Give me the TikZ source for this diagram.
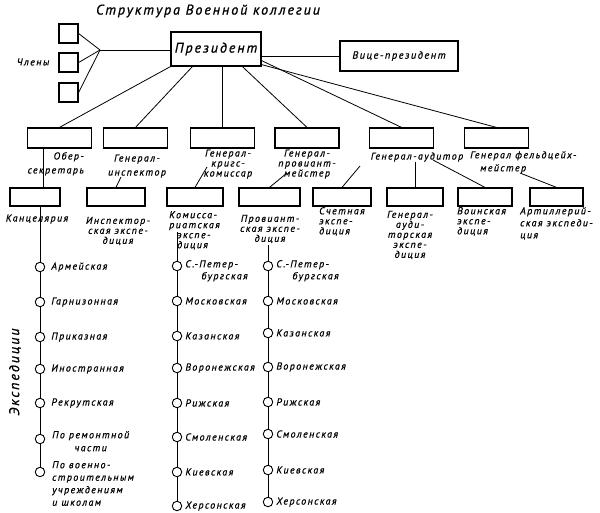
\documentclass[tikz,border=0pt]{standalone}
\usepackage{fontspec}
\setmainfont{PT Sans}
\newfontfamily\labelfont{PT Sans}[LetterSpace=14, FakeBold=0.6]
\newfontfamily\headfont{PT Sans}[LetterSpace=14, FakeBold=1]
\usetikzlibrary{positioning, calc}

\begin{document}
\begin{tikzpicture}[
  x=1pt, y=-1pt,
  font=\labelfont\itshape\fontsize{10}{10}\selectfont,
  box/.style     = {draw, line width=1.2pt, minimum width=#1,
                    minimum height=19pt, inner sep=0pt},
  box/.default   = 56,
  link/.style    = {line width=0.8pt},
  station/.style = {circle, draw, line width=0.9pt, fill=white,
                    minimum size=9.5pt, inner sep=0pt},
  txt/.style     = {inner sep=0pt, align=left},
  head/.style    = {font=\headfont\itshape\fontsize{14}{16}\selectfont}
]
\fill[white] (0,0) rectangle (600,512);
\useasboundingbox (0,0) rectangle (600,512);

% ── Top ───────────────────────────────────────────────────────────────────────
\node[head] (title) at (208,11) {Структура Военной коллегии};
\node[box=90, minimum height=34] (pres) at (216,49)
  {\headfont\itshape\fontsize{14}{16}\selectfont Президент};
\node[box=118, minimum height=30] (vice) at (399,56)
  {\fontsize{10.5}{12}\selectfont Вице-президент};

\foreach \i/\y in {1/33.5, 2/62.5, 3/92.5}
  \node[box=19, minimum height=19] (m\i) at (68.5,\y) {};
\node[txt] (members) at (33,62) {Члены};
\coordinate (join) at (100,50);

\foreach \i in {1,2,3}
  \draw[link] (m\i.east) -- (join);
\draw[link] (join) -- (join -| pres.west);
\draw[link] (vice.west) -- (vice.west -| pres.east);

% ── Second level ──────────────────────────────────────────────────────────────
\foreach \n/\x in {1/59.5, 2/135.5, 3/222.5, 4/307, 5/401.5, 6/496.5}
  \node[box=64, minimum height=20] (g\n) at (\x,138) {};

\coordinate (p1) at (pres.south west);
\coordinate (p2) at ($(pres.south west)+(22,0)$);
\coordinate (p3) at (g3.north |- pres.south);
\coordinate (p4) at ($(pres.south west)+(72,0)$);
\coordinate (p5) at ($(pres.south east)+(0,-6)$);
\coordinate (p6) at ($(pres.south east)+(0,-2)$);
\foreach \n in {1,...,6}
  \draw[link] (p\n) -- (g\n.north);

\node[txt, align=right, anchor=north east] (t1) at (84,152) {Обер-\\[4pt]секретарь};
\node[txt, align=center] (t2) at (137,166) {Генерал-\\[4pt]инспектор};
\node[txt, align=center] (t3) at (228,164) {Генерал-\\кригс-\\комиссар};
\node[txt, align=center] (t4) at (307,164) {Генерал-\\провиант-\\мейстер};
\node[txt] (t5) at (417,157) {Генерал-аудитор};
\node[txt, anchor=north west] (t6) at (470,151)
  {Генерал фельдцейх-\\[3pt]\hspace*{10pt}мейстер};

% ── Third level ───────────────────────────────────────────────────────────────
\foreach \n/\x/\w in {1/35/50, 2/116/58, 3/195/56, 4/269.5/61,
                      5/342/58, 6/415/56, 7/485/54, 8/556.5/53}
  \node[box=\w, minimum height=18] (c\n) at (\x,197) {};

\coordinate (k1) at ($(g1.south west)+(16,0)$);
\draw[link] (k1) -- (k1 |- c1.north);
\coordinate (k2) at (121,177);
\coordinate (k3) at (207,167);
\coordinate (k4) at (287,173);
\coordinate (k5) at (360,166);
\coordinate (k6) at (415,162);
\coordinate (k7) at (433,160);
\coordinate (k8) at (520,173);
\foreach \n in {2,...,8}
  \draw[link] (k\n) -- (c\n.north);

\node[txt] (d1) at (37,219) {Канцелярия};
\node[txt, align=center] (d2) at (118,231) {Инспектор-\\ская экспе-\\диция};
\node[txt, anchor=north west] (d3) at (169,211)
  {Комисса-\\риатская\\\hspace*{8pt}экспе-\\\hspace*{8pt}диция};
\node[txt, align=center] (d4) at (270,229) {Провиант-\\ская экспе-\\диция};
\node[txt, anchor=north west] (d5) at (319,207) {Счетная\\экспе-\\диция};
\node[txt, align=center] (d6) at (410,235)
  {Генерал-\\ауди-\\торская\\экспе-\\диция};
\node[txt, anchor=north west] (d7) at (457,207) {Воинская\\экспе-\\диция};
\node[txt, anchor=north west] (d8) at (520,207)
  {Артиллерий-\\[2pt]ская экспеди-\\[2pt]ция};

% ── Chains of expeditions ─────────────────────────────────────────────────────
\node[head, rotate=90] (exped) at (15,372) {Экспедиции};

\foreach \i/\y in {1/267, 2/302, 3/337, 4/369, 5/403, 6/439, 7/472}
  \node[station] (a\i) at (40,\y) {};
\draw[link] (c1.south -| a1) -- (a1);
\foreach \i [count=\j from 2] in {1,...,6}
  \draw[link] (a\i) -- (a\j);
\foreach \i/\t in {1/Армейская, 2/Гарнизонная, 3/Приказная,
                   4/Иностранная, 5/Рекрутская}
  \node[txt, right=6pt of a\i] (a\i-t) {\t};
\node[txt, align=center, anchor=north west, font=\labelfont\itshape\fontsize{10}{13}\selectfont]
  (a6-t) at (52,431) {По ремонтной\\части};
\node[txt, anchor=north west, font=\labelfont\itshape\fontsize{10}{12.5}\selectfont]
  (a7-t) at (52,461) {По военно-\\строительным\\учреждениям\\и школам};

\coordinate (r2) at (177,232);
\foreach \i/\y in {1/266, 2/301, 3/336, 4/368, 5/403, 6/437, 7/472, 8/506}
  \node[station] (b\i) at (177,\y) {};
\draw[link] (r2) -- (b1);
\foreach \i [count=\j from 2] in {1,...,7}
  \draw[link] (b\i) -- (b\j);

\coordinate (r3) at (268,245);
\foreach \i/\y in {1/266, 2/301, 3/333, 4/367, 5/402, 6/434, 7/470, 8/502}
  \node[station] (e\i) at (268,\y) {};
\draw[link] (r3) -- (e1);
\foreach \i [count=\j from 2] in {1,...,7}
  \draw[link] (e\i) -- (e\j);

\foreach \c in {b, e} {
  \node[txt, anchor=north west, font=\labelfont\itshape\fontsize{10}{12}\selectfont]
    (\c1-t) at ($(\c1.east)+(3,-6)$) {С.-Петер-\\\hspace*{16pt}бургская};
  \foreach \i/\t in {2/Московская, 3/Казанская, 4/Воронежская, 5/Рижская,
                     6/Смоленская, 7/Киевская, 8/Херсонская}
    \node[txt, right=3pt of \c\i] (\c\i-t) {\t};
}

\end{tikzpicture}
\end{document}
